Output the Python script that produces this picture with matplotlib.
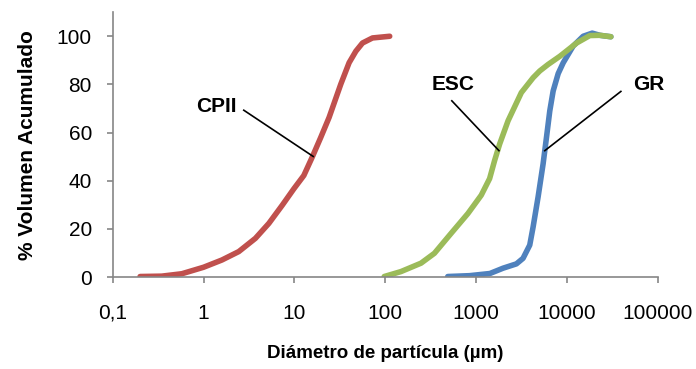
import matplotlib
matplotlib.use("Agg")
import matplotlib.pyplot as plt

# particle size distributions
cpii_x = [0.2, 0.346, 0.576, 1.0, 1.59, 2.44, 3.72, 5.23, 7.33, 9.87, 12.7, 15.7,
          19.5, 24.1, 32.4, 40, 47.5, 56.2, 72.4, 112]
cpii_y = [0.25, 0.4, 1.4, 4.1, 7.1, 10.6, 16.1, 22.3, 29.8, 36.7, 42.2, 49.8,
          58.0, 66.3, 80.1, 89.0, 93.8, 97.2, 99.3, 100.0]

esc_x = [97.5, 149, 248, 348, 532, 813, 1140, 1410, 1600, 1820, 2250, 3150,
         4250, 5030, 6210, 8370, 12800, 17900, 23000, 30500]
esc_y = [0.25, 2.3, 5.8, 9.9, 18.2, 26.4, 34.0, 40.9, 48.4, 55.3, 64.9, 76.6,
         82.8, 85.6, 88.3, 91.7, 97.2, 100.3, 100.4, 99.8]

gr_x = [488, 847, 1420, 1980, 2780, 3290, 3900, 4250, 4820, 5470, 5960, 6480,
        7060, 8020, 9110, 11700, 15100, 19000, 23100, 30500]
gr_y = [0.25, 0.6, 1.5, 3.7, 5.5, 7.8, 13.3, 20.9, 33.3, 47.0, 58.0, 69.0,
        77.3, 84.5, 89.0, 95.9, 100.0, 101.3, 100.4, 99.8]

xticks = [0.1, 1, 10, 100, 1000, 10000, 100000]
xtick_labels = ['0,1', '1', '10', '100', '1000', '10000', '100000']
yticks = [0, 20, 40, 60, 80, 100]

plt.rcParams['font.family'] = ['Liberation Sans', 'DejaVu Sans']

fig = plt.figure(figsize=(6.96, 3.69), dpi=100)
ax = fig.add_axes([0.162, 0.249, 0.783, 0.718])

lw = 4.0
ax.plot(cpii_x, cpii_y, color='#C0504D', lw=lw, solid_capstyle='round', solid_joinstyle='round')
ax.plot(gr_x, gr_y, color='#4F81BD', lw=lw, solid_capstyle='round', solid_joinstyle='round')
ax.plot(esc_x, esc_y, color='#9BBB59', lw=lw, solid_capstyle='round', solid_joinstyle='round')

ax.set_xscale('log')
ax.set_xlim(0.1, 100000)
ax.set_ylim(0, 110)
ax.set_xticks(xticks)
ax.set_xticklabels(xtick_labels)
ax.minorticks_off()
ax.set_yticks(yticks)

for s in ['top', 'right']:
    ax.spines[s].set_visible(False)
for s in ['left', 'bottom']:
    ax.spines[s].set_color('#868686')
    ax.spines[s].set_linewidth(1.2)

ax.tick_params(axis='both', colors='#868686', labelcolor='black', labelsize=15,
               length=4, width=1.2, direction='out')
ax.tick_params(axis='x', pad=15)
ax.tick_params(axis='y', pad=11)

ax.set_xlabel('Diámetro de partícula (µm)', fontsize=13.5, fontweight='bold', labelpad=16)
ax.set_ylabel('% Volumen Acumulado', fontsize=15, fontweight='bold', labelpad=14)

# labels with leader lines
ax.plot([2.77, 16.1], [69.3, 50.1], color='black', lw=1.2)
ax.text(1.37, 70.8, 'CPII', fontsize=15, fontweight='bold', ha='center', va='center')
ax.plot([541, 1787], [73.2, 52.5], color='black', lw=1.2)
ax.text(564, 79.8, 'ESC', fontsize=15, fontweight='bold', ha='center', va='center')
ax.plot([39300, 5710], [77.1, 52.5], color='black', lw=1.2)
ax.text(80600, 79.8, 'GR', fontsize=15, fontweight='bold', ha='center', va='center')

fig.savefig('out.png', dpi=100)
